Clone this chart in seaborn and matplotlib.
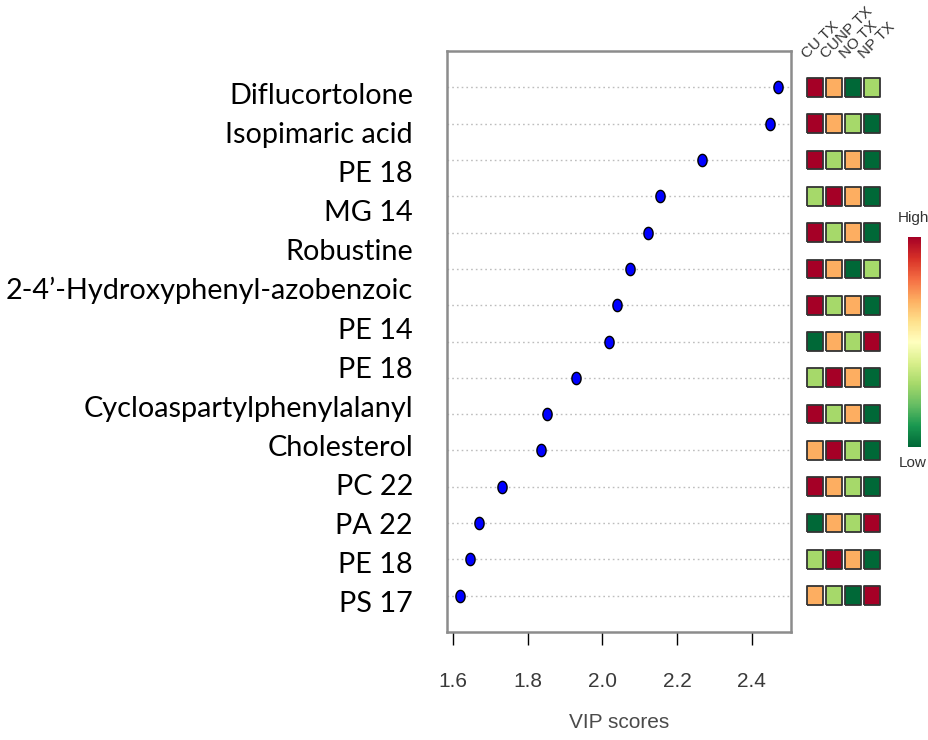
import matplotlib
matplotlib.use("Agg")
import matplotlib.pyplot as plt
import matplotlib as mpl
import seaborn as sns
import numpy as np
import pandas as pd
from matplotlib.transforms import blended_transform_factory

# ---------------- data ----------------
compound_labels = ["Diflucortolone", "Isopimaric acid", "PE 18", "MG 14", "Robustine",
                   "2-4\u2019-Hydroxyphenyl-azobenzoic", "PE 14", "PE 18",
                   "Cycloaspartylphenylalanyl", "Cholesterol", "PC 22", "PA 22",
                   "PE 18", "PS 17"]
vip_scores = [2.471, 2.450, 2.268, 2.154, 2.122, 2.074, 2.039, 2.017,
              1.929, 1.852, 1.835, 1.731, 1.670, 1.646, 1.619]
groups = ["CU TX", "CUNP TX", "NO TX", "NP TX"]
rank_cu = [4, 4, 4, 2, 4, 4, 4, 1, 2, 4, 3, 4, 1, 2, 3]
rank_cunp = [3, 3, 2, 4, 2, 3, 2, 3, 4, 2, 4, 3, 3, 4, 2]
rank_no = [1, 2, 3, 3, 3, 1, 3, 2, 3, 3, 2, 2, 2, 3, 1]
rank_np = [2, 1, 1, 1, 1, 2, 1, 4, 1, 1, 1, 1, 4, 1, 4]
x_ticks = [1.6, 1.8, 2.0, 2.2, 2.4]
x_tick_labels = ["1.6", "1.8", "2.0", "2.2", "2.4"]

# ---------------- style ----------------
sns.set_style("white")
plt.rcParams["font.family"] = ["Liberation Sans Narrow", "Liberation Sans", "DejaVu Sans"]

W, H = 929, 740
fig = plt.figure(figsize=(W / 100, H / 100), dpi=100)

def fx(px):
    return px / W

def fy(py):
    return 1 - py / H

n_rows = len(vip_scores)
rows = np.arange(n_rows)
ylim = (n_rows - 1 + 1.0, -1.0)

# ---------------- main dot plot ----------------
ax = fig.add_axes([fx(447.3), fy(632), fx(791) - fx(447.3), fy(51) - fy(632)])
df = pd.DataFrame({"vip": vip_scores, "row": rows})
t = np.linspace(0, 2 * np.pi, 40)
ellipse = list(zip(0.75 * np.cos(t), np.sin(t)))
sns.scatterplot(data=df, x="vip", y="row", ax=ax, color="#0000FF",
                edgecolor="black", linewidth=1.0, marker=ellipse, s=78, zorder=3)
ax.set_xlim(1.585, 2.505)
ax.set_ylim(*ylim)
ax.set_yticks(rows)
ax.yaxis.grid(True, linestyle=(0, (1.2, 2.2)), color="#bdbdbd", linewidth=1.0)
ax.xaxis.grid(False)
ax.tick_params(axis="y", length=0, labelleft=False)
ax.set_xticks(x_ticks)
ax.set_xticklabels(x_tick_labels)
ax.tick_params(axis="x", length=9.5, width=1.0, color="black", pad=19,
               labelsize=15, labelcolor="#3a3a3a", bottom=True)
ax.set_ylabel("")
ax.set_xlabel("VIP scores", fontsize=15, color="#4a4a4a", labelpad=16)
for s in ax.spines.values():
    s.set_color("#8c8c8c")
    s.set_linewidth(1.8)

# compound labels (overlaid text, as in the reference)
trans = blended_transform_factory(ax.transAxes, ax.transData)
x_lab = (413 - 447.3) / (791 - 447.3)
for j, lab in enumerate(compound_labels):
    ax.text(x_lab, 0.457 + 1.0769 * j, lab, transform=trans, ha="right",
            va="baseline", fontsize=20.8, color="black",
            family=["Lato", "DejaVu Sans"], clip_on=False)

# ---------------- mini heatmap ----------------
axh = fig.add_axes([fx(805.5), fy(632), fx(881.5) - fx(805.5), fy(51) - fy(632)])
hm = pd.DataFrame({
    "row": np.tile(rows, 4),
    "col": np.repeat(np.arange(4), n_rows),
    "rank": rank_cu + rank_cunp + rank_no + rank_np,
})
palette = {4: "#A50026", 3: "#FDAE61", 2: "#A6D96A", 1: "#006837"}
rect = [(-0.43, -0.5), (0.43, -0.5), (0.43, 0.5), (-0.43, 0.5), (-0.43, -0.5)]
sns.scatterplot(data=hm, x="col", y="row", hue="rank", palette=palette, ax=axh,
                marker=rect, s=180, edgecolor="#333333", linewidth=1.3, legend=False)
axh.set_xlim(-0.5, 3.5)
axh.set_ylim(*ylim)
axh.axis("off")
for i, g in enumerate(groups):
    axh.text(i - 0.42, -0.78, g, rotation=45, rotation_mode="anchor", ha="left",
             va="baseline", fontsize=11, color="#333333", clip_on=False)

# ---------------- colour key ----------------
axc = fig.add_axes([fx(908), fy(447), fx(921) - fx(908), fy(237) - fy(447)])
cb = mpl.colorbar.ColorbarBase(axc, cmap=plt.get_cmap("RdYlGn_r"),
                               norm=mpl.colors.Normalize(0, 1), orientation="vertical")
cb.set_ticks([])
cb.outline.set_visible(False)
fig.text(fx(913), fy(218), "High", ha="center", va="center", fontsize=11, color="#333333")
fig.text(fx(913), fy(463), "Low", ha="center", va="center", fontsize=11, color="#333333")

fig.savefig("out.png", dpi=100)
